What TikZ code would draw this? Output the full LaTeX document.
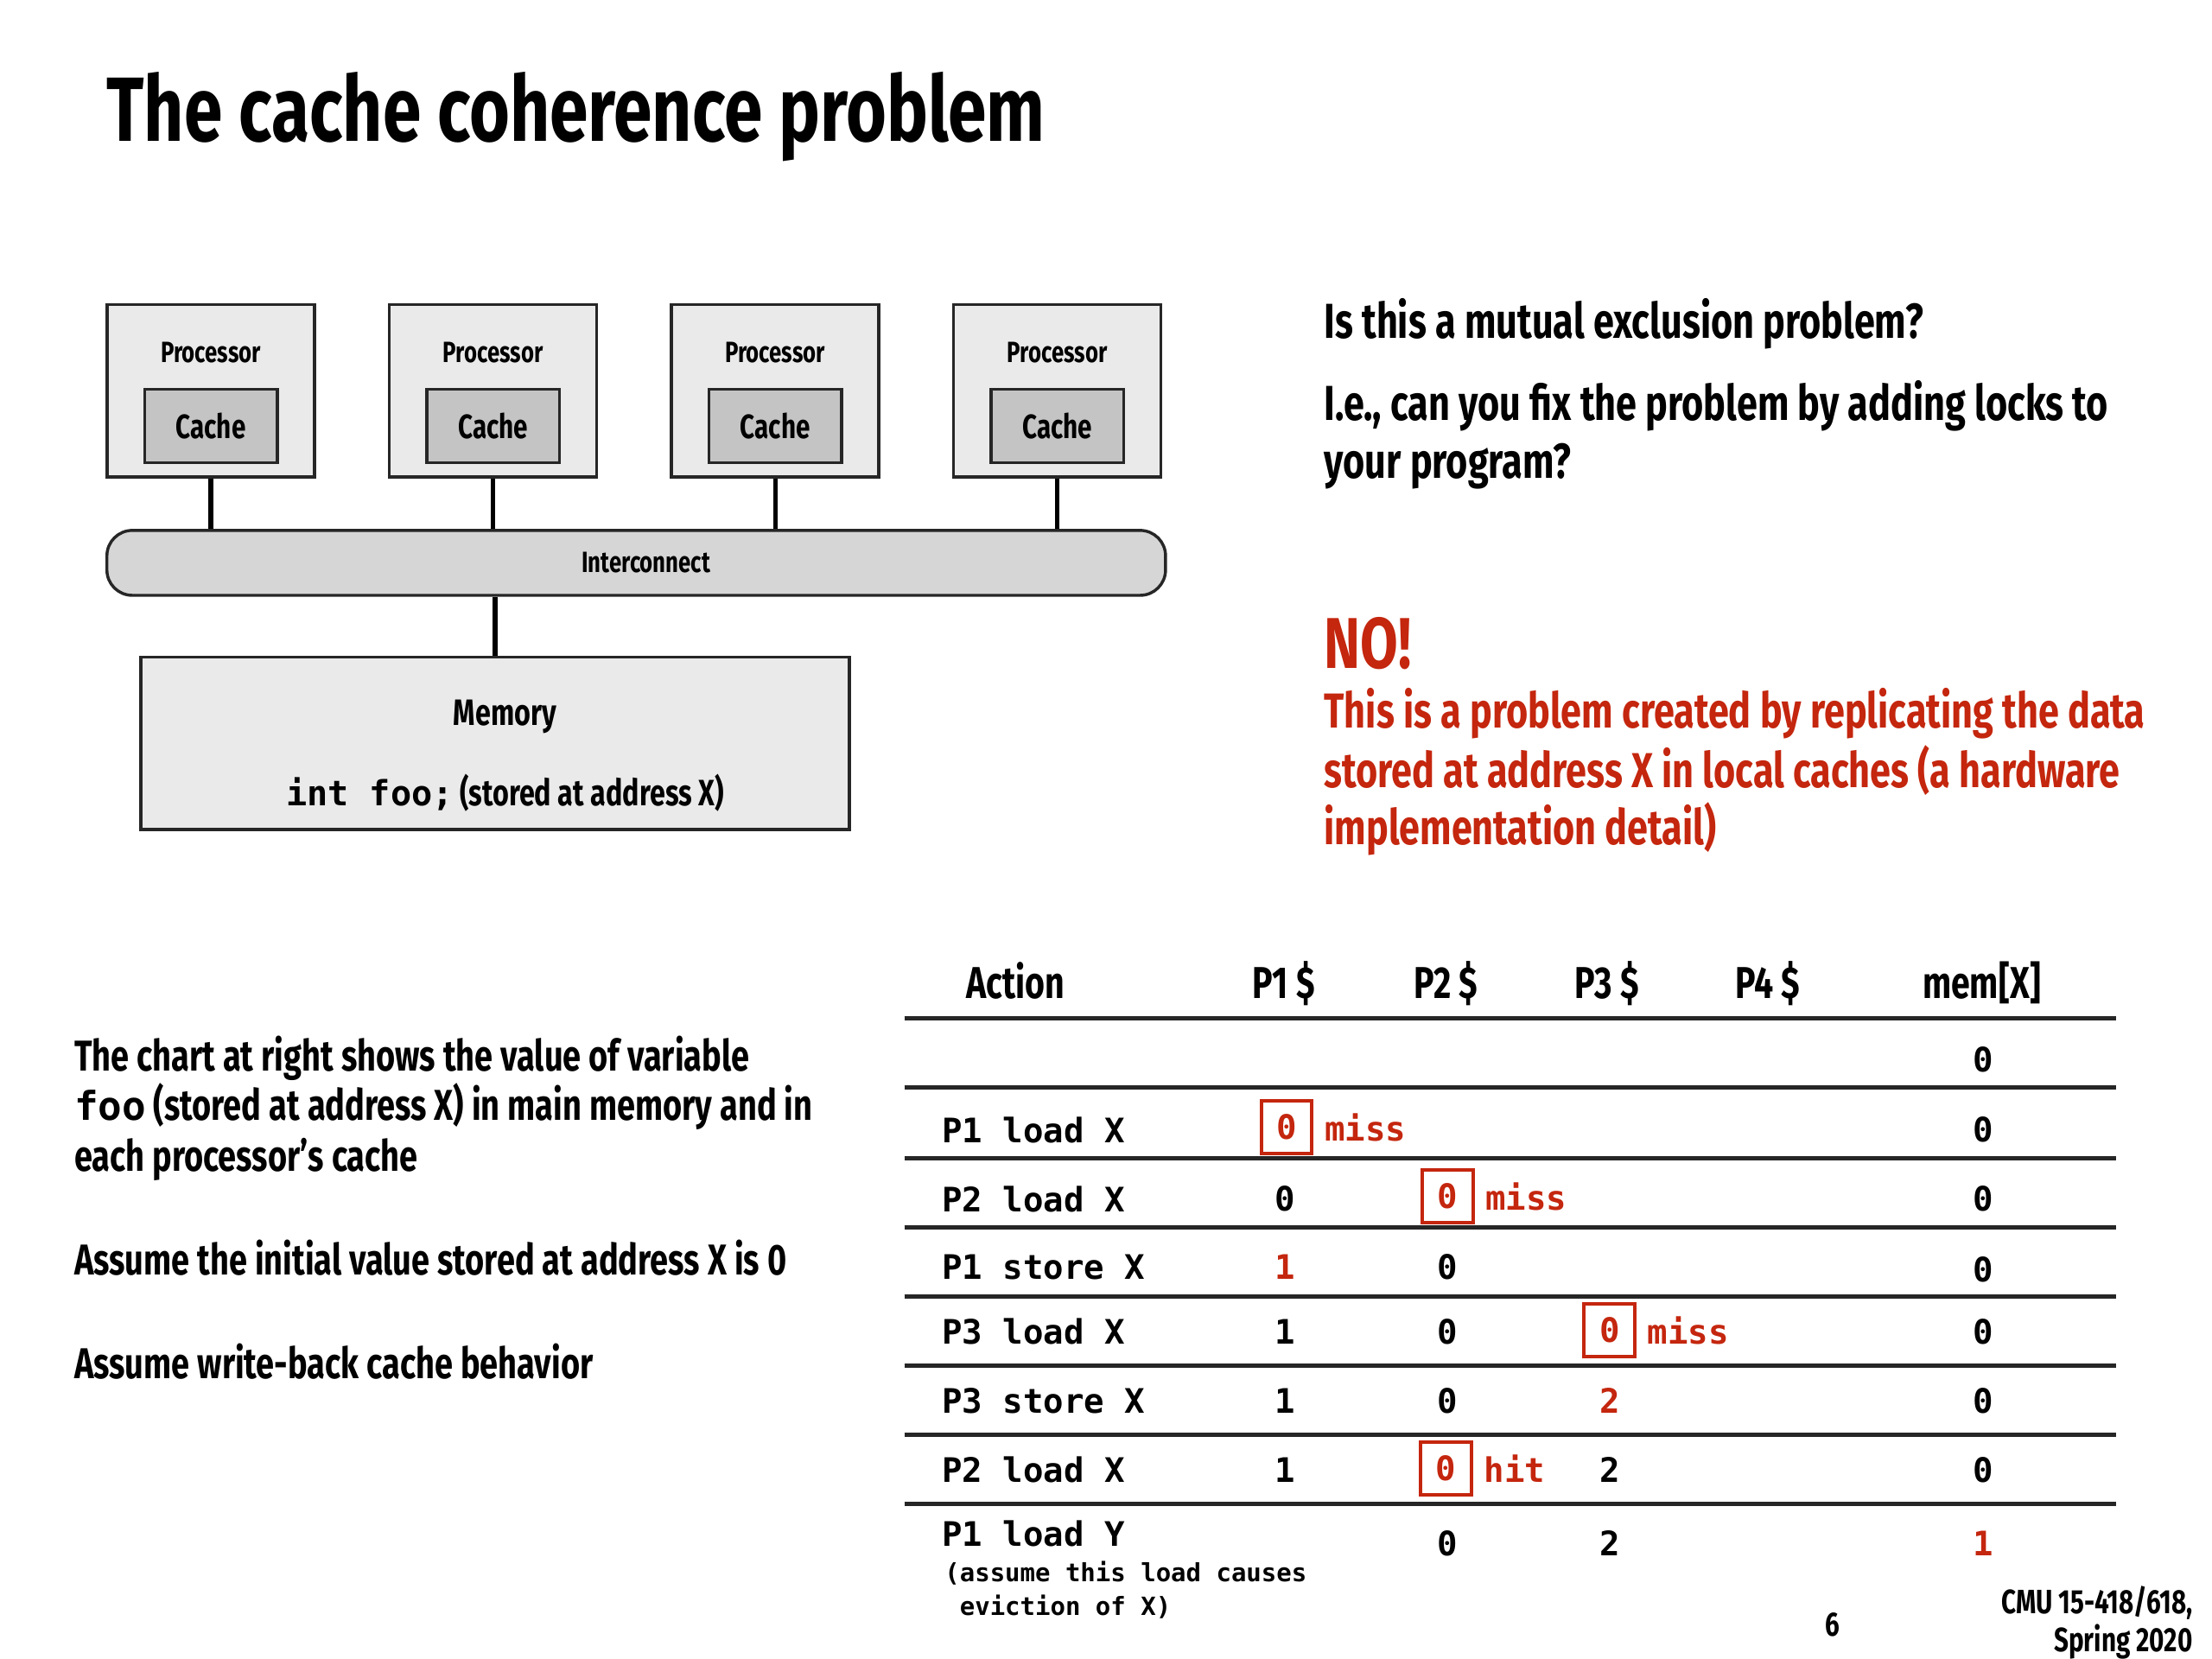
\documentclass[tikz,border=0pt]{standalone}
\usepackage{fontspec}
\setmainfont{Fira Sans}[FakeStretch=0.76]
\setmonofont{DejaVu Sans Mono}
\usetikzlibrary{positioning}

\definecolor{slidered}{RGB}{196,38,14}
\definecolor{boxgray}{RGB}{234,234,234}
\definecolor{cachegray}{RGB}{196,196,196}
\definecolor{busgray}{RGB}{214,214,214}

\tikzset{
  titletext/.style={anchor=base west, inner sep=0pt, font=\bfseries\fontsize{18.4}{21}\selectfont},
  bodytext/.style={anchor=base west, inner sep=0pt, font=\bfseries\fontsize{9.9}{11}\selectfont},
  notetext/.style={anchor=base west, inner sep=0pt, font=\bfseries\fontsize{8.7}{10}\selectfont},
  procbox/.style={draw=black!85, fill=boxgray, line width=0.6pt, minimum width=1.47cm, minimum height=1.22cm, inner sep=0pt},
  proclabel/.style={anchor=base, inner sep=0pt, font=\bfseries\fontsize{5.9}{7}\selectfont},
  cachebox/.style={draw=black!85, fill=cachegray, line width=0.6pt, minimum width=0.94cm, minimum height=0.52cm, inner sep=0pt, font=\bfseries\fontsize{6.8}{8}\selectfont},
  busbox/.style={draw=black!85, fill=busgray, line width=0.6pt, rounded corners=0.18cm, minimum width=7.5cm, minimum height=0.46cm, inner sep=0pt},
  buslabel/.style={inner sep=0pt, font=\bfseries\fontsize{5.9}{7}\selectfont},
  membox/.style={draw=black!85, fill=boxgray, line width=0.6pt, minimum width=5.02cm, minimum height=1.22cm, inner sep=0pt},
  wire/.style={line width=0.9pt},
  rule/.style={line width=0.8pt, black!85},
  colhead/.style={anchor=base, inner sep=0pt, font=\bfseries\fontsize{9}{10}\selectfont},
  action/.style={anchor=west, inner sep=0pt, font=\ttfamily\bfseries\fontsize{6.8}{8}\selectfont},
  cell/.style={inner sep=0pt, font=\ttfamily\bfseries\fontsize{6.8}{8}\selectfont},
  hitbox/.style={draw=slidered, text=slidered, line width=0.7pt, minimum width=0.36cm, minimum height=0.37cm, inner sep=0pt, font=\ttfamily\bfseries\fontsize{6.8}{8}\selectfont},
  hitlabel/.style={right=2pt of #1, inner sep=0pt, text=slidered, font=\ttfamily\bfseries\fontsize{6.8}{8}\selectfont},
  footer/.style={inner sep=0pt, font=\bfseries\fontsize{6.8}{8}\selectfont}
}

\begin{document}
\begin{tikzpicture}[x=0.01cm, y=-0.01cm]
    \useasboundingbox (0,0) rectangle (1568,1176);

    % title
    \node[titletext] (title) at (75,100) {The cache coherence problem};

    % --------------------------
    % processors, interconnect, memory
    % --------------------------
    \foreach \i/\x in {1/149.5,2/349.5,3/549.5,4/749.5} {
        \node[procbox] (p\i) at (\x,277) {};
        \node[proclabel] (pl\i) at (\x,257) {Processor};
        \node[cachebox] (c\i) at (\x,302) {Cache};
    }

    \node[busbox] (ic) at (451,399) {};
    \node[buslabel] (iclabel) at (458,399) {Interconnect};

    \node[membox] (mem) at (351,527) {};
    \node[anchor=base, inner sep=0pt, font=\bfseries\fontsize{7.4}{9}\selectfont] (memlabel) at (358,514) {Memory};
    \node[anchor=base, inner sep=0pt, font=\bfseries\fontsize{7.4}{9}\selectfont] (foo) at (358,571)
        {{\ttfamily\fontsize{7}{9}\selectfont int foo;} (stored at address X)};

    \foreach \i in {1,...,4}
        \draw[wire] (p\i.south) -- (p\i.south |- ic.north);
    \draw[wire] (mem.north) -- (mem.north |- ic.south);

    % --------------------------
    % question and answer
    % --------------------------
    \node[bodytext] (q1) at (938,240) {Is this a mutual exclusion problem?};
    \node[bodytext] (q2) at (938,298) {I.e., can you fix the problem by adding locks to};
    \node[bodytext] (q3) at (938,339) {your program?};

    \node[anchor=base west, inner sep=0pt, text=slidered, font=\bfseries\fontsize{14.5}{16}\selectfont] (no) at (938,474) {NO!};
    \node[bodytext, text=slidered] (a1) at (938,516) {This is a problem created by replicating the data};
    \node[bodytext, text=slidered] (a2) at (938,558) {stored at address X in local caches (a hardware};
    \node[bodytext, text=slidered] (a3) at (938,599) {implementation detail)};

    % --------------------------
    % notes on the left
    % --------------------------
    \node[notetext] (n1) at (52,759) {The chart at right shows the value of variable};
    \node[notetext] (n2) at (52,794) {{\ttfamily\fontsize{8}{9}\selectfont foo} (stored at address X) in main memory and in};
    \node[notetext] (n3) at (52,830) {each processor’s cache};
    \node[notetext] (n4) at (52,904) {Assume the initial value stored at address X is 0};
    \node[notetext] (n5) at (52,977) {Assume write-back cache behavior};

    % --------------------------
    % table
    % --------------------------
    \node[colhead] (hact) at (720,708) {Action};
    \node[colhead] (hp1) at (910,708) {P1 \$};
    \node[colhead] (hp2) at (1025,708) {P2 \$};
    \node[colhead] (hp3) at (1139,708) {P3 \$};
    \node[colhead] (hp4) at (1253,708) {P4 \$};
    \node[colhead] (hmem) at (1405,708) {mem[X]};

    \foreach \yy in {722,771,821,870,919,968,1017,1066}
        \draw[rule] (641,\yy) -- (1500,\yy);

    % initial
    \node[cell] (m0) at (1406,751) {0};

    % P1 load X
    \node[action] (a1r) at (667,801) {P1 load X};
    \node[hitbox] (h1) at (912,799) {0};
    \node[hitlabel=h1] (h1l) {miss};
    \node[cell] (m1) at (1406,801) {0};

    % P2 load X
    \node[action] (a2r) at (667,850) {P2 load X};
    \node[cell] (v21) at (911,850) {0};
    \node[hitbox] (h2) at (1026,848) {0};
    \node[hitlabel=h2] (h2l) {miss};
    \node[cell] (m2) at (1406,850) {0};

    % P1 store X
    \node[action] (a3r) at (667,898) {P1 store X};
    \node[cell, text=slidered] (v31) at (911,898) {1};
    \node[cell] (v32) at (1026,898) {0};
    \node[cell] (m3) at (1406,900) {0};

    % P3 load X
    \node[action] (a4r) at (667,944) {P3 load X};
    \node[cell] (v41) at (911,944) {1};
    \node[cell] (v42) at (1026,944) {0};
    \node[hitbox] (h3) at (1141,943) {0};
    \node[hitlabel=h3] (h3l) {miss};
    \node[cell] (m4) at (1406,944) {0};

    % P3 store X
    \node[action] (a5r) at (667,993) {P3 store X};
    \node[cell] (v51) at (911,993) {1};
    \node[cell] (v52) at (1026,993) {0};
    \node[cell, text=slidered] (v53) at (1141,993) {2};
    \node[cell] (m5) at (1406,993) {0};

    % P2 load X
    \node[action] (a6r) at (667,1042) {P2 load X};
    \node[cell] (v61) at (911,1042) {1};
    \node[hitbox] (h4) at (1025,1041) {0};
    \node[hitlabel=h4] (h4l) {hit};
    \node[cell] (v63) at (1141,1042) {2};
    \node[cell] (m6) at (1406,1042) {0};

    % P1 load Y
    \node[action] (a7r) at (667,1087) {P1 load Y};
    \node[anchor=north west, inner sep=0pt, align=left, font=\ttfamily\bfseries\fontsize{5.05}{6.8}\selectfont] (evict) at (669,1106)
        {(assume this load causes\\\hphantom{(}eviction of X)};
    \node[cell] (v72) at (1026,1094) {0};
    \node[cell] (v73) at (1141,1094) {2};
    \node[cell, text=slidered] (m7) at (1406,1094) {1};

    % footer
    \node[footer, anchor=base] (page) at (1299,1160) {6};
    \node[footer, anchor=base east] (course) at (1555,1144) {CMU 15-418/618,};
    \node[footer, anchor=base east] (term) at (1555,1171) {Spring 2020};

\end{tikzpicture}
\end{document}
